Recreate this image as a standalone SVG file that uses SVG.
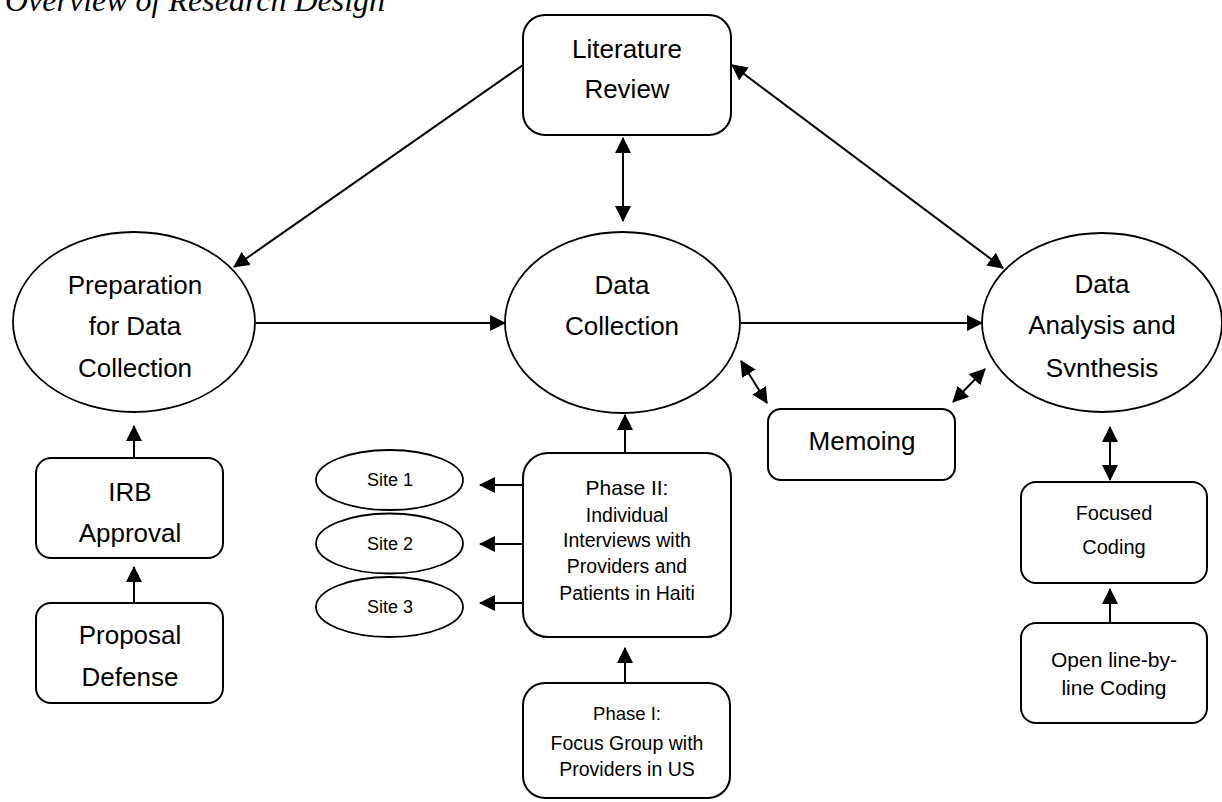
<svg xmlns="http://www.w3.org/2000/svg" width="1222" height="802" viewBox="0 0 1222 802">
<style>
.box{fill:#fff;stroke:#000;stroke-width:2}
.ell{fill:#fff;stroke:#000;stroke-width:1.8}
.t{font-family:"Liberation Sans",Arial,sans-serif;fill:#000;text-anchor:middle}
.big{font-size:26px}
.mid{font-size:19.5px}
.sm{font-size:18px}
.con{stroke:#000;stroke-width:2;fill:none}
.one{marker-end:url(#ah)}
.two{marker-start:url(#ah);marker-end:url(#ah)}
</style>
<defs>
<marker id="ah" markerUnits="userSpaceOnUse" markerWidth="16" markerHeight="16" viewBox="0 0 15 15" refX="14" refY="7.5" orient="auto-start-reverse">
<path d="M0,0 L15,7.5 L0,15 z" fill="#000"/>
</marker>
<clipPath id="daclip"><rect x="960" y="230" width="262" height="147"/></clipPath>
</defs>
<text x="5" y="11" font-family="Liberation Serif,'Times New Roman',serif" font-style="italic" font-size="32">Overview of Research Design</text>
<g id="connectors">
<line class="con one" x1="523" y1="65" x2="234" y2="267"/>
<line class="con two" x1="732" y1="65" x2="1003" y2="268"/>
<line class="con two" x1="623" y1="138" x2="623" y2="221"/>
<line class="con one" x1="256" y1="323" x2="505" y2="323"/>
<line class="con one" x1="741" y1="323" x2="982" y2="323"/>
<line class="con two" x1="741" y1="361" x2="767" y2="403"/>
<line class="con two" x1="985" y1="369" x2="953" y2="402"/>
<line class="con one" x1="134" y1="458" x2="134" y2="426"/>
<line class="con one" x1="134" y1="603" x2="134" y2="567"/>
<line class="con one" x1="625" y1="453" x2="625" y2="415"/>
<line class="con one" x1="523" y1="485" x2="480" y2="485"/>
<line class="con one" x1="523" y1="544" x2="480" y2="544"/>
<line class="con one" x1="523" y1="603" x2="480" y2="603"/>
<line class="con one" x1="625" y1="683" x2="625" y2="648"/>
<line class="con two" x1="1110" y1="427" x2="1110" y2="480"/>
<line class="con one" x1="1110" y1="623" x2="1110" y2="589"/>
</g>
<g id="literature-review">
<rect class="box" x="523" y="15" width="208" height="120" rx="22"/>
<text class="t big" x="627" y="58">Literature</text>
<text class="t big" x="627" y="98">Review</text>
</g>
<g id="preparation">
<ellipse class="ell" cx="134" cy="322" rx="121" ry="90"/>
<text class="t big" x="135" y="294">Preparation</text>
<text class="t big" x="135" y="335">for Data</text>
<text class="t big" x="135" y="377">Collection</text>
</g>
<g id="data-collection">
<ellipse class="ell" cx="622.5" cy="322.5" rx="117.5" ry="90.5"/>
<text class="t big" x="622" y="294">Data</text>
<text class="t big" x="622" y="335">Collection</text>
</g>
<g id="data-analysis">
<ellipse class="ell" cx="1102" cy="322.5" rx="120" ry="89.5"/>
<g clip-path="url(#daclip)">
<text class="t big" x="1102" y="293">Data</text>
<text class="t big" x="1102" y="334">Analysis and</text>
<text class="t big" x="1102" y="377">Synthesis</text>
</g>
</g>
<g id="memoing">
<rect class="box" x="768" y="409" width="187" height="71" rx="13"/>
<text class="t big" x="862" y="450">Memoing</text>
</g>
<g id="irb-approval">
<rect class="box" x="36" y="458" width="187" height="100" rx="15"/>
<text class="t big" x="130" y="501">IRB</text>
<text class="t big" x="130" y="542">Approval</text>
</g>
<g id="proposal-defense">
<rect class="box" x="36" y="603" width="187" height="100" rx="15"/>
<text class="t big" x="130" y="644">Proposal</text>
<text class="t big" x="130" y="686">Defense</text>
</g>
<g id="site-1">
<ellipse class="ell" cx="389.5" cy="480" rx="73.5" ry="30"/>
<text class="t sm" x="390" y="486">Site 1</text>
</g>
<g id="site-2">
<ellipse class="ell" cx="389.5" cy="543.5" rx="73.5" ry="30"/>
<text class="t sm" x="390" y="550">Site 2</text>
</g>
<g id="site-3">
<ellipse class="ell" cx="389.5" cy="607" rx="73.5" ry="30"/>
<text class="t sm" x="390" y="613">Site 3</text>
</g>
<g id="phase-2">
<rect class="box" x="523" y="453" width="208" height="184" rx="25"/>
<text class="t" x="627" y="495" font-size="21">Phase II:</text>
<text class="t mid" x="627" y="522">Individual</text>
<text class="t mid" x="627" y="547">Interviews with</text>
<text class="t mid" x="627" y="573">Providers and</text>
<text class="t mid" x="627" y="600">Patients in Haiti</text>
</g>
<g id="phase-1">
<rect class="box" x="523" y="683" width="207" height="115" rx="22"/>
<text class="t" x="627" y="720" font-size="18.5">Phase I:</text>
<text class="t mid" x="627" y="750">Focus Group with</text>
<text class="t mid" x="627" y="776">Providers in US</text>
</g>
<g id="focused-coding">
<rect class="box" x="1021" y="482" width="186" height="101" rx="15"/>
<text class="t" x="1114" y="520" font-size="20">Focused</text>
<text class="t" x="1114" y="554" font-size="20">Coding</text>
</g>
<g id="open-coding">
<rect class="box" x="1021" y="623" width="186" height="100" rx="15"/>
<text class="t" x="1114" y="667" font-size="21">Open line-by-</text>
<text class="t" x="1114" y="695" font-size="21">line Coding</text>
</g>
</svg>
